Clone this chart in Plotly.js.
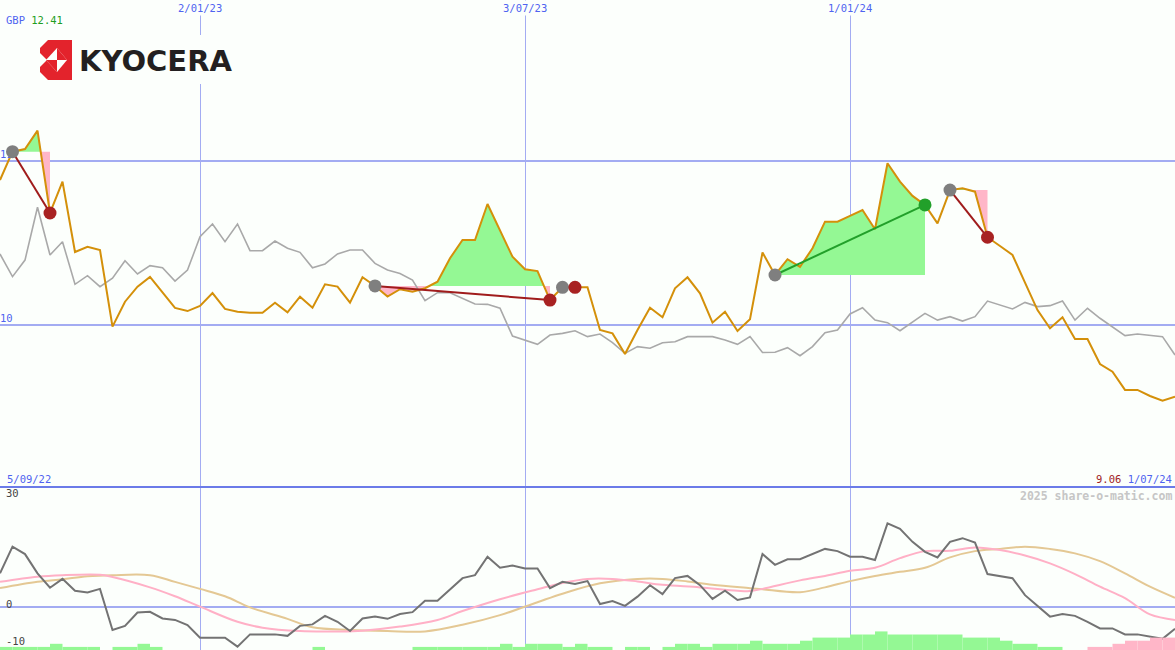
<!DOCTYPE html>
<html><head><meta charset="utf-8">
<script src="https://cdn.plot.ly/plotly-3.0.1.min.js"></script>
<style>html,body{margin:0;padding:0;background:#fcfffc;}#chart{width:1175px;height:650px;}</style>
</head><body><div id="chart"></div>
<script>
// ---------------- DATA ----------------
const currency = 'GBP';
const highLabel = '12.41';
const lastLabel = '9.06';
const startLabel = '5/09/22';
const endLabel = '1/07/24';
const watermark = '2025 share-o-matic.com';
const brand = 'KYOCERA';

const xTickVals = [16, 42, 68];
const xTickText = ['2/01/23', '3/07/23', '1/01/24'];
const yTickVals = [10, 11];
const lowTickVals = [30, 0, -10];

// weekly share price (GBP)
const price = [10.884, 11.057, 11.073, 11.185, 10.683, 10.874, 10.445, 10.477, 10.457, 9.990,
  10.142, 10.234, 10.293, 10.195, 10.104, 10.085, 10.116, 10.195, 10.098, 10.081,
  10.075, 10.075, 10.136, 10.077, 10.173, 10.105, 10.248, 10.234, 10.136, 10.291,
  10.238, 10.173, 10.218, 10.203, 10.224, 10.264, 10.407, 10.518, 10.518, 10.738,
  10.579, 10.416, 10.340, 10.329, 10.152, 10.230, 10.230, 10.230, 9.970, 9.949,
  9.823, 9.970, 10.105, 10.047, 10.224, 10.291, 10.193, 10.014, 10.081, 9.963,
  10.035, 10.442, 10.305, 10.401, 10.355, 10.468, 10.630, 10.630, 10.665, 10.701,
  10.584, 10.986, 10.874, 10.787, 10.732, 10.620, 10.823, 10.834, 10.813, 10.535,
  10.482, 10.427, 10.258, 10.091, 9.980, 10.047, 9.915, 9.915, 9.762, 9.715,
  9.604, 9.604, 9.567, 9.538, 9.563];

// relative (index-scaled) comparison line
const relative = [10.433, 10.295, 10.396, 10.718, 10.427, 10.508, 10.248, 10.301, 10.234, 10.285,
  10.392, 10.311, 10.362, 10.349, 10.268, 10.335, 10.538, 10.616, 10.508, 10.616,
  10.453, 10.453, 10.512, 10.468, 10.443, 10.349, 10.372, 10.433, 10.457, 10.457,
  10.376, 10.335, 10.314, 10.274, 10.148, 10.197, 10.197, 10.163, 10.128, 10.126,
  10.102, 9.933, 9.909, 9.882, 9.939, 9.949, 9.965, 9.929, 9.945, 9.892,
  9.827, 9.868, 9.858, 9.892, 9.898, 9.929, 9.929, 9.929, 9.909, 9.882,
  9.930, 9.832, 9.834, 9.862, 9.813, 9.868, 9.953, 9.970, 10.067, 10.105,
  10.030, 10.014, 9.965, 10.020, 10.071, 10.030, 10.051, 10.024, 10.051, 10.146,
  10.122, 10.098, 10.138, 10.112, 10.118, 10.146, 10.030, 10.102, 10.041, 9.986,
  9.935, 9.945, 9.939, 9.929, 9.817];

// lower panel oscillator
const momentum = [9.1, 16.3, 14.3, 9.1, 5.2, 7.6, 4.4, 3.9, 4.9, -6.2,
  -5.1, -1.5, -1.3, -3.1, -3.5, -4.9, -8.3, -8.3, -8.3, -10.7,
  -7.4, -7.4, -7.4, -7.8, -5.1, -4.7, -2.4, -4.0, -6.5, -3.1,
  -2.6, -3.2, -1.9, -1.4, 1.7, 1.7, 4.8, 7.8, 8.6, 13.6,
  10.6, 11.2, 10.4, 10.4, 5.1, 6.8, 6.2, 7.0, 0.8, 1.6,
  0.3, 2.8, 5.9, 3.5, 7.8, 8.4, 5.9, 2.2, 4.4, 1.9,
  2.6, 14.3, 11.4, 12.9, 12.9, 14.3, 15.7, 15.1, 13.6, 13.6,
  12.7, 22.6, 21.1, 17.6, 14.9, 13.4, 17.6, 18.6, 17.4, 8.9,
  8.4, 7.8, 3.2, 0.3, -2.6, -1.9, -2.4, -4.0, -5.8, -5.8,
  -7.4, -7.4, -8.0, -8.6, -5.9];

// faster moving average (pink), read at these weeks
const maFastWeek = [0, 3, 5, 8, 9, 12, 14, 16, 19, 21, 24, 27, 29, 32, 35, 37, 40, 43, 45, 47, 49, 51, 53, 56, 59, 60, 61, 64, 66, 68, 70, 72, 74, 76, 78, 80, 82, 84, 86, 88, 90, 92, 94];
const maFast = [6.8, 8.2, 8.6, 8.7, 8.1, 5.3, 2.9, 0.1, -4.0, -5.6, -6.5, -6.6, -6.4, -5.3, -3.5, -1.1, 2.1, 4.8, 6.5, 7.6, 7.6, 6.9, 6.0, 5.3, 4.4, 4.3, 4.9, 7.2, 8.4, 9.8, 10.6, 13.2, 15.1, 15.2, 16.1, 15.4, 13.9, 11.8, 8.9, 5.5, 2.4, -2.0, -3.5];

// slower moving average (tan), read at these weeks
const maSlowWeek = [0, 3, 5, 7, 9, 12, 14, 16, 18, 20, 23, 25, 28, 31, 34, 37, 40, 43, 45, 48, 51, 53, 55, 57, 60, 61, 64, 66, 68, 70, 72, 74, 76, 78, 80, 82, 84, 86, 88, 90, 92, 94];
const maSlow = [5.1, 6.8, 7.5, 8.3, 8.6, 8.6, 6.8, 4.9, 2.9, -0.1, -3.2, -5.5, -6.2, -6.5, -6.6, -4.8, -2.2, 1.3, 3.6, 6.4, 7.6, 7.6, 6.9, 6.0, 5.1, 4.8, 4.0, 5.3, 7.0, 8.4, 9.5, 10.6, 13.4, 15.1, 15.7, 16.3, 15.7, 14.5, 12.4, 9.1, 5.5, 2.5];

// trend strength histogram (positive = green, negative = pink)
const strength = [1, 1, 1, 1, 2, 1, 1, 1, 0, 1,
  1, 2, 1, 0, 0, 0, 0, 0, 0, 0,
  0, 0, 0, 0, 0, 1, 0, 0, 0, 0,
  0, 0, 0, 1, 1, 1, 1, 1, 1, 1,
  2, 1, 2, 2, 2, 1, 2, 1, 1, 0,
  1, 1, 0, 1, 2, 2, 1, 2, 2, 2,
  3, 2, 2, 2, 3, 4, 4, 4, 5, 5,
  6, 5, 5, 5, 5, 5, 5, 4, 4, 4,
  3, 2, 2, 1, 1, 0, 0, -1, -1, -2,
  -3, -3, -4, -4, -4];

// trades: entry and exit week indices
const tradeEntry = [1, 30, 45, 62, 76];
const tradeExit = [4, 44, 46, 74, 79];

// ---------------- STYLE ----------------
const W = 1175, H = 650;
const BG = '#fcfffc';
const GRID = '#a3acf2';
const BLUE = '#4f63f0';
const ORANGE = '#d4900a';
const GAIN = '#94f894';
const LOSS = '#ffb6c8';
const FONT = 'DejaVu Sans Mono';
const splitY = 487;               // pixel row of the panel separator
const lowDomainTop = 1 - splitY / H;
const px = x => x / W;
const py = y => 1 - y / H;

const weeks = price.map((_, i) => i);

const traces = [];

// trade fills (between price and entry level)
tradeEntry.forEach((i0, t) => {
  const i1 = tradeExit[t];
  const base = price[i0];
  const pts = [];
  for (let k = i0; k <= i1; k++) {
    if (k > i0) {
      const a = price[k - 1] - base, b = price[k] - base;
      if (a * b < 0) pts.push([k - 1 + a / (a - b), base]);
    }
    pts.push([k, price[k]]);
  }
  const up = { x: pts.map(p => p[0]), y: pts.map(p => Math.max(p[1], base)) };
  const dn = { x: pts.map(p => p[0]), y: pts.map(p => Math.min(p[1], base)) };
  [[up, GAIN], [dn, LOSS]].forEach(([poly, col]) => {
    traces.push({
      x: poly.x.concat([i1, i0]), y: poly.y.concat([base, base]),
      type: 'scatter', mode: 'lines', fill: 'toself', fillcolor: col,
      line: { width: 0 }, hoverinfo: 'skip', xaxis: 'x', yaxis: 'y'
    });
  });
});

traces.push({ x: weeks, y: relative, type: 'scatter', mode: 'lines',
  line: { color: '#a9a9a9', width: 1.6 }, xaxis: 'x', yaxis: 'y' });
traces.push({ x: weeks, y: price, type: 'scatter', mode: 'lines',
  line: { color: ORANGE, width: 2 }, xaxis: 'x', yaxis: 'y' });

// y tick labels of main panel (under the markers)
traces.push({ x: yTickVals.map(() => 0), y: yTickVals, text: yTickVals.map(String),
  type: 'scatter', mode: 'text', textposition: 'top right',
  textfont: { family: FONT, size: 10.5, color: BLUE }, xaxis: 'x', yaxis: 'y' });

// trade lines + markers
tradeEntry.forEach((i0, t) => {
  const i1 = tradeExit[t];
  const win = price[i1] > price[i0];
  traces.push({ x: [i0, i1], y: [price[i0], price[i1]], type: 'scatter', mode: 'lines',
    line: { color: win ? '#22a02a' : '#a01c1c', width: 2 }, xaxis: 'x', yaxis: 'y' });
});
traces.push({ x: tradeEntry, y: tradeEntry.map(i => price[i]), type: 'scatter', mode: 'markers',
  marker: { color: '#7f7f7f', size: 13 }, xaxis: 'x', yaxis: 'y' });
traces.push({ x: tradeExit, y: tradeExit.map(i => price[i]), type: 'scatter', mode: 'markers',
  marker: { color: tradeExit.map((i, t) => price[i] > price[tradeEntry[t]] ? '#22a02a' : '#a82222'), size: 13 },
  xaxis: 'x', yaxis: 'y' });

// lower panel
traces.push({ x: weeks, y: strength.map(v => v > 0 ? v : 0), type: 'bar', offset: 0, width: 1,
  marker: { color: GAIN, line: { width: 0 } }, xaxis: 'x', yaxis: 'y3' });
traces.push({ x: weeks, y: strength.map(v => v < 0 ? -v : 0), type: 'bar', offset: 0, width: 1,
  marker: { color: LOSS, line: { width: 0 } }, xaxis: 'x', yaxis: 'y3' });
traces.push({ x: maSlowWeek, y: maSlow, type: 'scatter', mode: 'lines',
  line: { color: '#e4c894', width: 2, shape: 'spline' }, xaxis: 'x', yaxis: 'y2' });
traces.push({ x: maFastWeek, y: maFast, type: 'scatter', mode: 'lines',
  line: { color: '#ffb0c6', width: 2, shape: 'spline' }, xaxis: 'x', yaxis: 'y2' });
traces.push({ x: weeks, y: momentum, type: 'scatter', mode: 'lines',
  line: { color: '#737373', width: 2 }, xaxis: 'x', yaxis: 'y2' });

// ---------------- SHAPES (logo) ----------------
const path = pts => 'M' + pts.map(([x, y]) => `${px(x)},${py(y)}`).join(' L') + ' Z';
const shapes = [
  { type: 'line', xref: 'paper', yref: 'paper', x0: 0, x1: 1, y0: lowDomainTop, y1: lowDomainTop,
    line: { color: '#6b7be8', width: 2 }, layer: 'above' },
  { type: 'rect', xref: 'paper', yref: 'paper', x0: px(30), x1: px(240), y0: py(84), y1: py(35),
    fillcolor: BG, line: { width: 0 }, layer: 'above' },
  { type: 'path', xref: 'paper', yref: 'paper', layer: 'above', line: { width: 0 }, fillcolor: '#e3232c',
    path: path([[48, 40], [72, 40], [72, 80], [48, 80], [40, 72], [40, 48]]) },
  { type: 'path', xref: 'paper', yref: 'paper', layer: 'above', line: { width: 0 }, fillcolor: BG,
    path: path([[40, 53], [47, 60], [40, 67]]) },
  { type: 'path', xref: 'paper', yref: 'paper', layer: 'above', line: { width: 0 }, fillcolor: BG,
    path: path([[46, 60], [57, 48], [67, 60], [57, 72]]) },
  { type: 'path', xref: 'paper', yref: 'paper', layer: 'above', line: { width: 0 }, fillcolor: '#e3232c',
    path: path([[57, 48], [67, 60], [57, 60]]) },
  { type: 'path', xref: 'paper', yref: 'paper', layer: 'above', line: { width: 0 }, fillcolor: '#e3232c',
    path: path([[46, 60], [57, 72], [57, 60]]) }
];

// ---------------- ANNOTATIONS ----------------
const ann = [];
ann.push({ xref: 'paper', yref: 'paper', x: px(4), y: py(20), xanchor: 'left', yanchor: 'middle', showarrow: false,
  text: `<span style="color:${BLUE}">${currency}</span> <span style="color:#1f9e1f">${highLabel}</span>`,
  font: { family: FONT, size: 10.5 } });
xTickVals.forEach((v, i) => ann.push({ xref: 'x', yref: 'paper', x: v, y: 1, xanchor: 'center', yanchor: 'top',
  showarrow: false, text: xTickText[i], bgcolor: BG, borderpad: 1,
  font: { family: FONT, size: 10.5, color: BLUE } }));
ann.push({ xref: 'paper', yref: 'paper', x: px(5), y: py(479), xanchor: 'left', yanchor: 'middle', showarrow: false,
  text: startLabel, font: { family: FONT, size: 10.5, color: BLUE } });
ann.push({ xref: 'paper', yref: 'paper', x: px(1174), y: py(479), xanchor: 'right', yanchor: 'middle', showarrow: false,
  text: `<span style="color:#a01c1c">${lastLabel}</span> <span style="color:${BLUE}">${endLabel}</span>`,
  font: { family: FONT, size: 10.5 } });
ann.push({ xref: 'paper', yref: 'paper', x: px(1174), y: py(496), xanchor: 'right', yanchor: 'middle', showarrow: false,
  text: `<b>${watermark}</b>`, font: { family: FONT, size: 11.5, color: '#c6c6c6' } });
lowTickVals.forEach(v => ann.push({ xref: 'paper', yref: 'y2', x: px(4), y: v, xanchor: 'left', yanchor: 'middle',
  yshift: 3, showarrow: false, text: String(v), font: { family: FONT, size: 10.5, color: '#454545' } }));
ann.push({ xref: 'paper', yref: 'paper', x: px(77), y: py(61), xanchor: 'left', yanchor: 'middle', showarrow: false,
  text: brand, font: { family: 'DejaVu Sans', size: 29, weight: 700, color: '#231f20' } });

const axBase = { showticklabels: false, ticks: '', zeroline: false, showline: false, fixedrange: true };
const layout = {
  width: W, height: H, margin: { l: 0, r: 0, t: 0, b: 0, pad: 0 },
  paper_bgcolor: BG, plot_bgcolor: BG, showlegend: false, barmode: 'overlay', hovermode: false,
  xaxis: Object.assign({}, axBase, { range: [0, 94], domain: [0, 1], tickvals: xTickVals,
    showgrid: true, gridcolor: GRID, gridwidth: 1 }),
  yaxis: Object.assign({}, axBase, { domain: [lowDomainTop, 1], range: [9.0122, 11.9817], tickvals: yTickVals,
    showgrid: true, gridcolor: GRID, gridwidth: 2 }),
  yaxis2: Object.assign({}, axBase, { domain: [0, lowDomainTop], range: [-11.62, 32.43], tickvals: [0],
    showgrid: true, gridcolor: GRID, gridwidth: 2 }),
  yaxis3: Object.assign({}, axBase, { overlaying: 'y2', range: [0, 52.6], showgrid: false }),
  shapes: shapes, annotations: ann
};

Plotly.newPlot('chart', traces, layout, { displayModeBar: false, staticPlot: true });
</script>
</body></html>
